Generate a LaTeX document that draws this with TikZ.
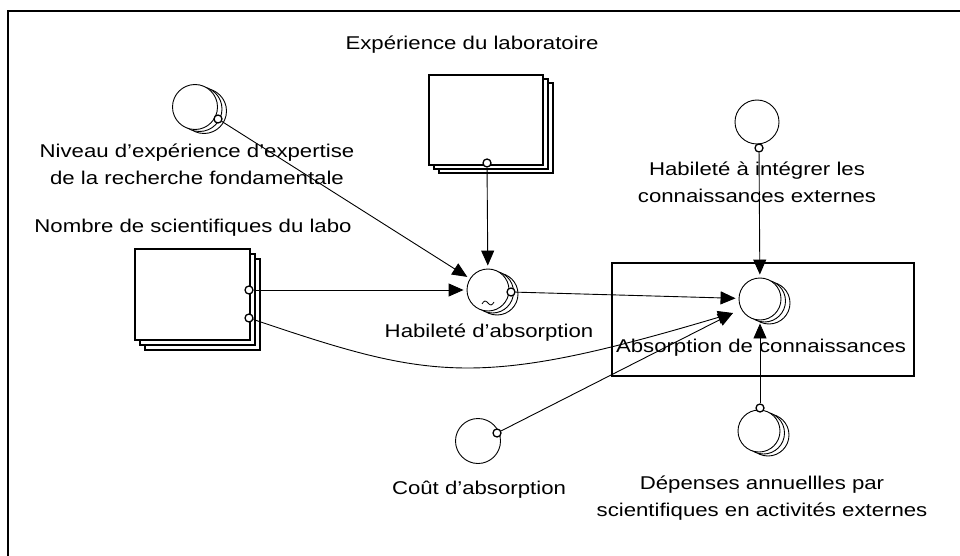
\documentclass[tikz,border=0pt]{standalone}
\usepackage{fontspec}
\setmainfont[FakeStretch=1.2]{Liberation Sans}
\usetikzlibrary{arrows.meta,shadows}

\begin{document}
\begin{tikzpicture}[x=1pt,y=-1pt,
  aux/.style={circle,draw,fill=white,line width=0.9pt,minimum size=42pt,inner sep=0pt},
  auxstack/.style={aux,double copy shadow={shadow xshift=4.5pt,shadow yshift=-2pt,draw,fill=white,line width=0.9pt}},
  stockbox/.style={rectangle,draw,fill=white,line width=1.1pt,inner sep=0pt,
    double copy shadow={shadow xshift=5pt,shadow yshift=-5pt,draw,fill=white,line width=1.1pt}},
  dot/.style={circle,draw,fill=white,inner sep=0pt,minimum size=8pt,line width=1.3pt},
  arr/.style={-{Triangle[length=15pt,width=13pt]},line width=0.9pt,shorten >=3pt},
  lbl/.style={font=\fontsize{18.5}{27}\selectfont,align=center,inner sep=0pt}]
\useasboundingbox (0,0) rectangle (960,556);

% frame
\draw[line width=2pt] (8,556) -- (8,11) -- (960,11);

% process box
\draw[line width=1.1pt] (612,263) rectangle (914,376);

% stocks
\node[stockbox,minimum width=115pt,minimum height=91pt] (nomb) at (192.5,294.5) {};
\node[rectangle,draw,fill=white,line width=1.1pt,inner sep=0pt,minimum width=114pt,minimum height=90pt,
  double copy shadow={shadow xshift=5pt,shadow yshift=-4pt,draw,fill=white,line width=1.1pt}] (expl) at (486,120) {};

% auxiliaries
\node[auxstack,minimum size=45pt] (niv) at (195,107) {};
\node[auxstack] (hab) at (488,290) {};
\node[auxstack] (abs) at (760,299) {};
\node[aux,minimum size=44pt] (integ) at (757,122) {};
\node[aux,minimum size=45pt] (cout) at (478,441) {};
\node[auxstack] (dep) at (759,431) {};

% graph mark inside the absorption ability
\draw[line width=0.8pt] (482,304) sin (485,301) cos (488,303) sin (491,305) cos (494,302);

% labels
\node[lbl] (texpl) at (472,45) {Expérience du laboratoire};
\node[lbl] (tniv) at (197,164) {Niveau d'expérience d'expertise\\de la recherche fondamentale};
\node[lbl] (tnomb) at (193,228) {Nombre de scientifiques du labo};
\node[lbl] (thab) at (489,333) {Habileté d'absorption};
\node[lbl] (tabs) at (761,348) {Absorption de connaissances};
\node[lbl] (tinteg) at (757,182) {Habileté à intégrer les\\connaissances externes};
\node[lbl] (tcout) at (479,490) {Coût d'absorption};
\node[lbl] (tdep) at (762,498) {Dépenses annuellles par\\scientifiques en activités externes};

% connector outlets
\node[dot] (dn) at (218,119) {};
\node[dot] (ds1) at (249,290) {};
\node[dot] (ds2) at (249,318) {};
\node[dot] (de) at (487,163) {};
\node[dot] (dh) at (511,292) {};
\node[dot] (di) at (759,148) {};
\node[dot] (dc) at (497,433) {};
\node[dot] (dd) at (760,408) {};
\coordinate (absin) at (733,313);

% connectors
\draw[arr] (dn) -- (hab);
\draw[arr] (ds1) -- (hab);
\draw[arr] (de) -- (hab);
\draw[arr] (dh) -- (abs);
\draw[arr,shorten >=0pt] (ds2) .. controls (432,380) and (478,389) .. (absin);
\draw[arr,shorten >=0pt] (dc) -- (absin);
\draw[arr] (di) -- (abs);
\draw[arr] (dd) -- (abs);
\end{tikzpicture}
\end{document}
